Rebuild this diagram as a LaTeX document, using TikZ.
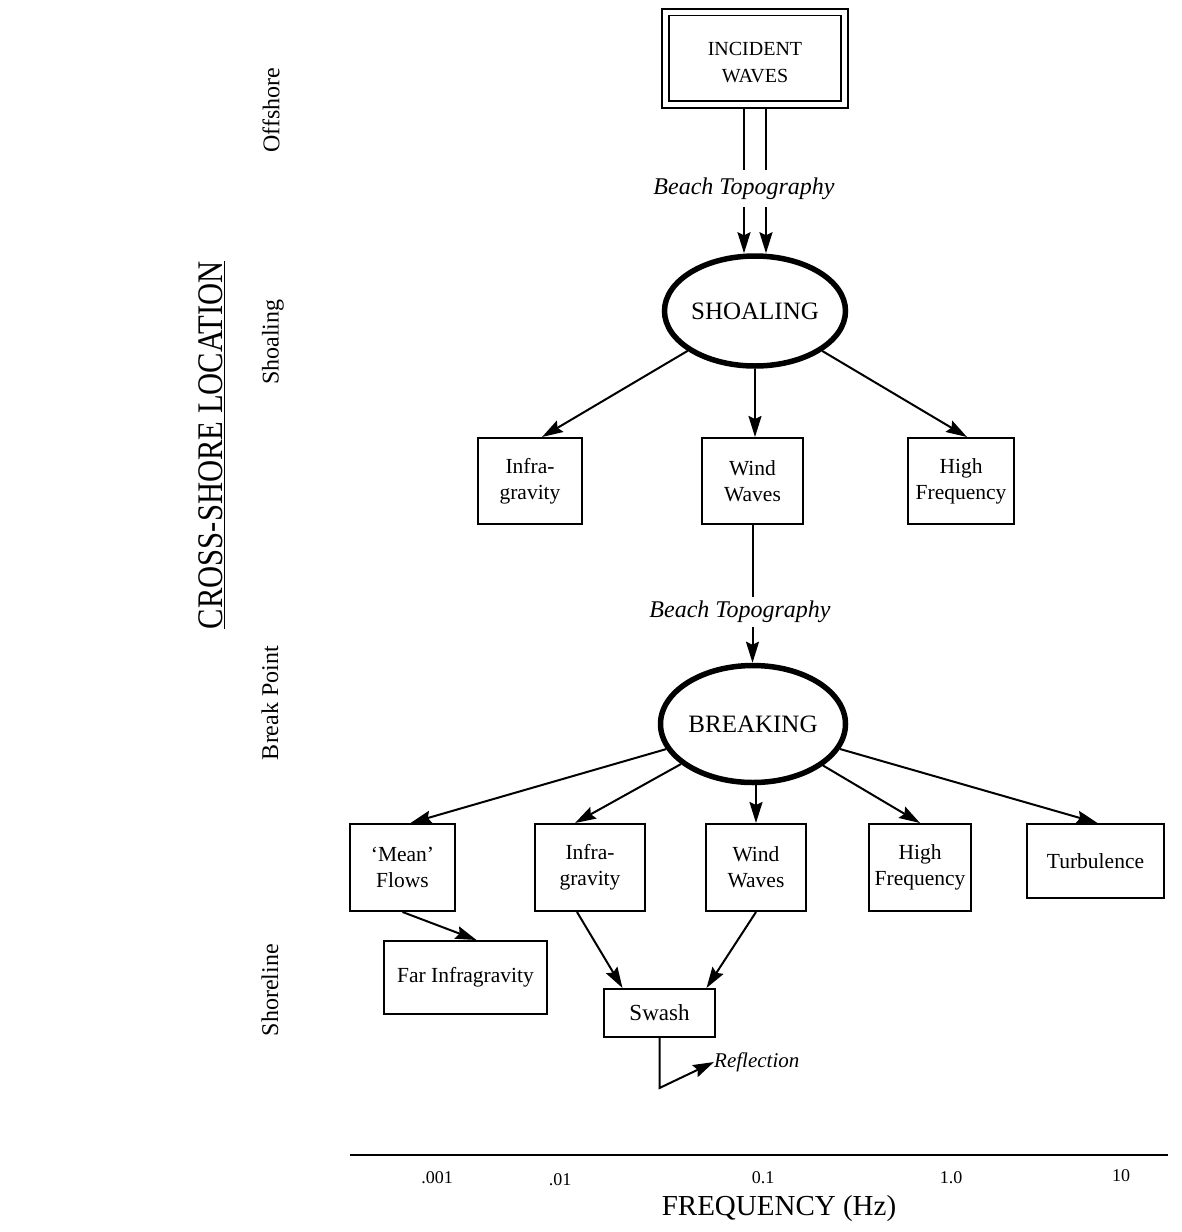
\documentclass[tikz,border=0pt]{standalone}
\usepackage{fontspec}
\setmainfont{Liberation Serif}
\usetikzlibrary{arrows.meta,shapes.geometric}
\begin{document}
\begin{tikzpicture}[x=1pt,y=-1pt,
  box/.style={draw, line width=2pt, inner sep=0pt, align=center, font=\fontsize{21.5}{26}\selectfont},
  oval/.style={draw, ellipse, line width=5.5pt, inner sep=0pt, font=\fontsize{25}{30}\selectfont},
  arr/.style={line width=2pt, -{Stealth[length=21pt,width=13pt,inset=3pt]}},
  conn/.style={line width=2pt},
  lab/.style={inner sep=0pt, font=\fontsize{24}{28}\selectfont\itshape},
  side/.style={rotate=90, inner sep=0pt, font=\fontsize{24}{28}\selectfont},
  tick/.style={anchor=base, inner sep=0pt, font=\fontsize{18}{20}\selectfont}
]
\useasboundingbox[fill=white] (0,0) rectangle (1182,1232);

% top
\node[box, double, double distance=5pt, line width=1.8pt, outer sep=4.3pt, minimum width=178.5pt, minimum height=92.5pt,
      font=\fontsize{20}{27}\selectfont] (inc) at (755,58.25) {\rule{0pt}{21pt}INCIDENT\\WAVES};
\node[lab, minimum height=37pt] (bt1) at (744,188.5) {Beach Topography};
\node[oval, minimum width=181pt, minimum height=110pt] (sho) at (755,311) {SHOALING};

% level 2
\node[box, minimum width=104pt, minimum height=86pt] (ig2) at (530,481) {Infra-\\gravity};
\node[box, minimum width=101pt, minimum height=86pt] (ww2) at (752.5,481) {Wind\\Waves};
\node[box, minimum width=106pt, minimum height=86pt] (hf2) at (961,481) {High\\Frequency};

\node[lab, minimum height=30pt] (bt2) at (740,612) {Beach Topography};
\node[oval, minimum width=185pt, minimum height=117pt] (brk) at (753,724) {BREAKING};

% level 3
\node[box, minimum width=105pt, minimum height=87pt] (mf) at (402.5,867.5) {`Mean'\\Flows};
\node[box, minimum width=110pt, minimum height=87pt] (ig3) at (590,867.5) {Infra-\\gravity};
\node[box, minimum width=100pt, minimum height=87pt] (ww3) at (756,867.5) {Wind\\Waves};
\node[box, minimum width=102pt, minimum height=87pt] (hf3) at (920,867.5) {High\\Frequency};
\node[box, minimum width=137pt, minimum height=74pt] (tu) at (1095.5,861) {Turbulence};
\node[box, minimum width=163pt, minimum height=73pt] (far) at (465.5,977.5) {Far Infragravity};
\node[box, minimum width=111pt, minimum height=48pt, font=\fontsize{23}{26}\selectfont] (sw) at (659.5,1013) {Swash};
\node[inner sep=0pt, anchor=west, font=\fontsize{21}{24}\selectfont\itshape] (refl) at (714,1062) {Reflection};

% side labels
\node[side] (off) at (271,110) {Offshore};
\node[side, font=\fontsize{36}{40}\selectfont] (cs) at (212,445) {\scalebox{0.85}[1]{\underline{CROSS-SHORE LOCATION}}};
\node[side] (shl) at (273,342) {Shoaling};
\node[side] (bp) at (270,703) {Break Point};
\node[side] (shr) at (270,990) {Shoreline};

% frequency axis
\coordinate (a1) at (350,1155);
\coordinate (a2) at (1168,1155);
\draw[line width=2.6pt] (a1) -- (a2);
\node[tick] (t1) at (437,1183) {.001};
\node[tick] (t2) at (560,1185) {.01};
\node[tick] (t3) at (763,1183) {0.1};
\node[tick] (t4) at (951,1183) {1.0};
\node[tick] (t5) at (1121,1181) {10};
\node[anchor=base, inner sep=0pt, font=\fontsize{29}{32}\selectfont] (fq) at (779,1215) {FREQUENCY (Hz)};

% connectors
\draw[conn] ([xshift=-11pt]inc.south) -- ([xshift=-11pt]inc.south |- bt1.north);
\draw[conn] ([xshift=11pt]inc.south) -- ([xshift=11pt]inc.south |- bt1.north);
\draw[arr] ([xshift=-11pt]inc.south |- bt1.south) -- ([xshift=-11pt]inc.south |- sho.north);
\draw[arr] ([xshift=11pt]inc.south |- bt1.south) -- ([xshift=11pt]inc.south |- sho.north);

\draw[arr] (sho) -- ([xshift=12pt]ig2.north);
\draw[arr] (sho.south) -- (sho.south |- ww2.north);
\draw[arr] (sho) -- ([xshift=6pt]hf2.north);

\draw[conn] (ww2.south) -- (ww2.south |- bt2.north);
\draw[arr] (ww2.south |- bt2.south) -- (ww2.south |- brk.north);

\draw[arr] (brk) -- ([xshift=8pt]mf.north);
\draw[arr] (brk) -- ([xshift=-15pt]ig3.north);
\draw[arr] (ww3.north |- brk.south) -- (ww3.north);
\draw[arr] (brk) -- (hf3.north);
\draw[arr] (brk) -- ([xshift=2pt]tu.north);

\draw[arr] (mf.south) -- ([xshift=11pt]far.north);
\draw[arr] ([xshift=-13pt]ig3.south) -- ([xshift=-37pt]sw.north);
\draw[arr] (ww3.south) -- ([xshift=47pt]sw.north);
\draw[arr] (sw.south) -- ++(0,50) -- (refl.west);
\end{tikzpicture}
\end{document}
